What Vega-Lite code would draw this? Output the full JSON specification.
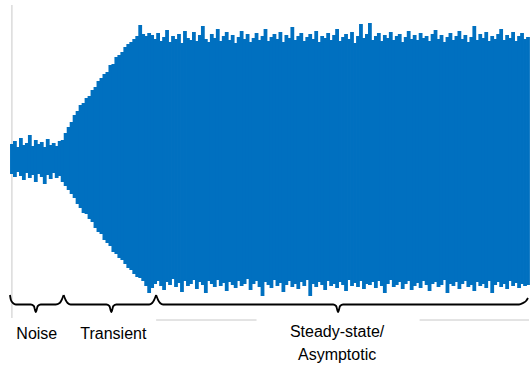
{
"$schema":"https://vega.github.io/schema/vega-lite/v6.json",
"width":532,"height":367,"padding":0,
"autosize":{"type":"fit","contains":"padding"},
"config":{"view":{"stroke":null}},
"datasets":{
"wave":[
{"t":0,"hi":16,"lo":-14},{"t":3,"hi":19,"lo":-17},{"t":6,"hi":13,"lo":-12},{"t":9,"hi":22,"lo":-16},{"t":12,"hi":15,"lo":-20},{"t":15,"hi":17,"lo":-13},{"t":18,"hi":25,"lo":-18},{"t":21,"hi":14,"lo":-15},{"t":24,"hi":20,"lo":-22},{"t":27,"hi":16,"lo":-14},{"t":30,"hi":18,"lo":-17},{"t":33,"hi":13,"lo":-24},{"t":36,"hi":21,"lo":-15},{"t":39,"hi":15,"lo":-19},{"t":42,"hi":17,"lo":-13},{"t":45,"hi":14,"lo":-18},{"t":48,"hi":19,"lo":-16},
{"t":51,"hi":20,"lo":-22},{"t":54,"hi":27,"lo":-26},{"t":57,"hi":33,"lo":-30},{"t":60,"hi":38,"lo":-34},{"t":63,"hi":45,"lo":-38},{"t":66,"hi":49,"lo":-44},{"t":69,"hi":55,"lo":-48},{"t":72,"hi":57,"lo":-53},{"t":75,"hi":62,"lo":-54},{"t":78,"hi":64,"lo":-59},{"t":81,"hi":70,"lo":-62},{"t":84,"hi":73,"lo":-68},{"t":87,"hi":79,"lo":-72},{"t":90,"hi":82,"lo":-74},{"t":93,"hi":86,"lo":-80},{"t":96,"hi":88,"lo":-83},{"t":99,"hi":95,"lo":-86},{"t":102,"hi":96,"lo":-92},{"t":105,"hi":103,"lo":-94},{"t":108,"hi":105,"lo":-98},{"t":111,"hi":108,"lo":-100},{"t":114,"hi":113,"lo":-104},{"t":117,"hi":116,"lo":-108},{"t":120,"hi":118,"lo":-110},{"t":123,"hi":121,"lo":-114},{"t":126,"hi":124,"lo":-117},{"t":129,"hi":135,"lo":-118},{"t":132,"hi":126,"lo":-121},{"t":135,"hi":124,"lo":-126},{"t":138,"hi":127,"lo":-133},
{"t":141,"hi":125,"lo":-128},{"t":144,"hi":121,"lo":-124},{"t":147,"hi":127,"lo":-121},{"t":150,"hi":119,"lo":-126},{"t":153,"hi":123,"lo":-130},{"t":156,"hi":130,"lo":-122},{"t":159,"hi":118,"lo":-125},{"t":162,"hi":124,"lo":-119},{"t":165,"hi":121,"lo":-127},{"t":168,"hi":126,"lo":-123},
{"t":171,"hi":117,"lo":-132},{"t":174,"hi":129,"lo":-121},{"t":177,"hi":122,"lo":-126},{"t":180,"hi":120,"lo":-124},{"t":183,"hi":128,"lo":-120},{"t":186,"hi":119,"lo":-129},{"t":189,"hi":125,"lo":-122},{"t":192,"hi":134,"lo":-125},{"t":195,"hi":121,"lo":-133},{"t":198,"hi":118,"lo":-121},
{"t":201,"hi":126,"lo":-124},{"t":204,"hi":122,"lo":-127},{"t":207,"hi":131,"lo":-120},{"t":210,"hi":119,"lo":-126},{"t":213,"hi":124,"lo":-123},{"t":216,"hi":128,"lo":-131},{"t":219,"hi":120,"lo":-122},{"t":222,"hi":125,"lo":-125},{"t":225,"hi":117,"lo":-128},{"t":228,"hi":123,"lo":-121},
{"t":231,"hi":129,"lo":-126},{"t":234,"hi":121,"lo":-124},{"t":237,"hi":126,"lo":-119},{"t":240,"hi":118,"lo":-130},{"t":243,"hi":122,"lo":-124},{"t":246,"hi":127,"lo":-121},{"t":249,"hi":120,"lo":-127},{"t":252,"hi":124,"lo":-136},{"t":255,"hi":131,"lo":-122},{"t":258,"hi":119,"lo":-125},
{"t":261,"hi":123,"lo":-128},{"t":264,"hi":126,"lo":-120},{"t":267,"hi":121,"lo":-126},{"t":270,"hi":128,"lo":-123},{"t":273,"hi":118,"lo":-132},{"t":276,"hi":125,"lo":-125},{"t":279,"hi":122,"lo":-121},{"t":282,"hi":133,"lo":-127},{"t":285,"hi":120,"lo":-124},{"t":288,"hi":124,"lo":-129},
{"t":291,"hi":127,"lo":-122},{"t":294,"hi":119,"lo":-126},{"t":297,"hi":123,"lo":-120},{"t":300,"hi":126,"lo":-136},{"t":303,"hi":121,"lo":-124},{"t":306,"hi":129,"lo":-127},{"t":309,"hi":118,"lo":-122},{"t":312,"hi":124,"lo":-125},{"t":315,"hi":122,"lo":-130},{"t":318,"hi":127,"lo":-121},
{"t":321,"hi":120,"lo":-126},{"t":324,"hi":125,"lo":-124},{"t":327,"hi":131,"lo":-128},{"t":330,"hi":119,"lo":-122},{"t":333,"hi":123,"lo":-125},{"t":336,"hi":126,"lo":-131},{"t":339,"hi":121,"lo":-120},{"t":342,"hi":128,"lo":-126},{"t":345,"hi":117,"lo":-123},{"t":348,"hi":124,"lo":-127},
{"t":351,"hi":136,"lo":-121},{"t":354,"hi":122,"lo":-129},{"t":357,"hi":126,"lo":-124},{"t":360,"hi":137,"lo":-125},{"t":363,"hi":120,"lo":-122},{"t":366,"hi":124,"lo":-128},{"t":369,"hi":127,"lo":-121},{"t":372,"hi":119,"lo":-126},{"t":375,"hi":125,"lo":-133},{"t":378,"hi":122,"lo":-124},
{"t":381,"hi":128,"lo":-120},{"t":384,"hi":120,"lo":-127},{"t":387,"hi":124,"lo":-125},{"t":390,"hi":126,"lo":-122},{"t":393,"hi":118,"lo":-129},{"t":396,"hi":123,"lo":-124},{"t":399,"hi":129,"lo":-121},{"t":402,"hi":121,"lo":-130},{"t":405,"hi":125,"lo":-126},{"t":408,"hi":120,"lo":-123},
{"t":411,"hi":127,"lo":-128},{"t":414,"hi":122,"lo":-121},{"t":417,"hi":124,"lo":-125},{"t":420,"hi":119,"lo":-131},{"t":423,"hi":126,"lo":-124},{"t":426,"hi":130,"lo":-122},{"t":429,"hi":121,"lo":-127},{"t":432,"hi":125,"lo":-125},{"t":435,"hi":118,"lo":-120},{"t":438,"hi":123,"lo":-133},
{"t":441,"hi":127,"lo":-124},{"t":444,"hi":120,"lo":-126},{"t":447,"hi":124,"lo":-122},{"t":450,"hi":129,"lo":-129},{"t":453,"hi":121,"lo":-124},{"t":456,"hi":125,"lo":-121},{"t":459,"hi":118,"lo":-127},{"t":462,"hi":123,"lo":-125},{"t":465,"hi":134,"lo":-131},{"t":468,"hi":120,"lo":-122},
{"t":471,"hi":126,"lo":-126},{"t":474,"hi":122,"lo":-124},{"t":477,"hi":128,"lo":-128},{"t":480,"hi":119,"lo":-121},{"t":483,"hi":124,"lo":-133},{"t":486,"hi":121,"lo":-125},{"t":489,"hi":126,"lo":-122},{"t":492,"hi":131,"lo":-127},{"t":495,"hi":120,"lo":-124},{"t":498,"hi":125,"lo":-129},
{"t":501,"hi":122,"lo":-121},{"t":504,"hi":128,"lo":-126},{"t":507,"hi":119,"lo":-123},{"t":510,"hi":124,"lo":-128},{"t":513,"hi":127,"lo":-124},{"t":516,"hi":121,"lo":-126},{"t":519,"hi":123,"lo":-125}
],
"braces":[
{"b":"noise","i":0,"t":-2,"a":-135},{"b":"noise","i":1,"t":-1,"a":-140},{"b":"noise","i":2,"t":1,"a":-143},{"b":"noise","i":3,"t":4,"a":-144.5},{"b":"noise","i":4,"t":19,"a":-144.5},{"b":"noise","i":5,"t":22,"a":-146},{"b":"noise","i":6,"t":24,"a":-152},{"b":"noise","i":7,"t":26,"a":-146},{"b":"noise","i":8,"t":29,"a":-144.5},{"b":"noise","i":9,"t":44,"a":-144.5},{"b":"noise","i":10,"t":48,"a":-143},{"b":"noise","i":11,"t":50,"a":-140},{"b":"noise","i":12,"t":52,"a":-135},
{"b":"trans","i":0,"t":52,"a":-135},{"b":"trans","i":1,"t":54,"a":-140},{"b":"trans","i":2,"t":56,"a":-143},{"b":"trans","i":3,"t":59,"a":-144.5},{"b":"trans","i":4,"t":95,"a":-144.5},{"b":"trans","i":5,"t":98,"a":-146},{"b":"trans","i":6,"t":100,"a":-152},{"b":"trans","i":7,"t":102,"a":-146},{"b":"trans","i":8,"t":105,"a":-144.5},{"b":"trans","i":9,"t":138,"a":-144.5},{"b":"trans","i":10,"t":141,"a":-143},{"b":"trans","i":11,"t":143,"a":-140},{"b":"trans","i":12,"t":145,"a":-135},
{"b":"steady","i":0,"t":145,"a":-135},{"b":"steady","i":1,"t":147,"a":-140},{"b":"steady","i":2,"t":149,"a":-143},{"b":"steady","i":3,"t":152,"a":-144.5},{"b":"steady","i":4,"t":323,"a":-144.5},{"b":"steady","i":5,"t":326,"a":-146},{"b":"steady","i":6,"t":328,"a":-152},{"b":"steady","i":7,"t":330,"a":-146},{"b":"steady","i":8,"t":333,"a":-144.5},{"b":"steady","i":9,"t":510,"a":-144.5},{"b":"steady","i":10,"t":514,"a":-143},{"b":"steady","i":11,"t":517,"a":-141},{"b":"steady","i":12,"t":519,"a":-138}
],
"labels":[
{"label":"Noise","t":25,"a":-179},
{"label":"Transient","t":102,"a":-179},
{"label":"Steady-state/","t":327,"a":-177},
{"label":"Asymptotic","t":327,"a":-200}
],
"axes":[
{"x1":0,"x2":0,"y1":155,"y2":-158},
{"x1":145,"x2":246,"y1":-160,"y2":-160},
{"x1":410,"x2":520,"y1":-160,"y2":-160}
]
},
"layer":[
{"data":{"name":"axes"},"mark":{"type":"rule","color":"#c8c8c8","strokeWidth":1},
 "encoding":{"x":{"field":"x1","type":"quantitative","scale":{"domain":[-12,520],"nice":false,"zero":false},"axis":null},
 "x2":{"field":"x2"},
 "y":{"field":"y1","type":"quantitative","scale":{"domain":[-207,160],"nice":false,"zero":false},"axis":null},
 "y2":{"field":"y2"}}},
{"data":{"name":"wave"},"mark":{"type":"rule","color":"#0070C0","strokeWidth":3.8},
 "encoding":{"x":{"field":"t","type":"quantitative"},"y":{"field":"hi","type":"quantitative"},"y2":{"field":"lo"}}},
{"data":{"name":"braces"},"mark":{"type":"line","color":"#000000","strokeWidth":1.8,"interpolate":"monotone"},
 "encoding":{"x":{"field":"t","type":"quantitative"},"y":{"field":"a","type":"quantitative"},"detail":{"field":"b"},"order":{"field":"i"}}},
{"data":{"name":"labels"},"mark":{"type":"text","font":"Liberation Sans","fontSize":16,"color":"#000000","align":"center","baseline":"alphabetic"},
 "encoding":{"x":{"field":"t","type":"quantitative"},"y":{"field":"a","type":"quantitative"},"text":{"field":"label"}}}
]
}
